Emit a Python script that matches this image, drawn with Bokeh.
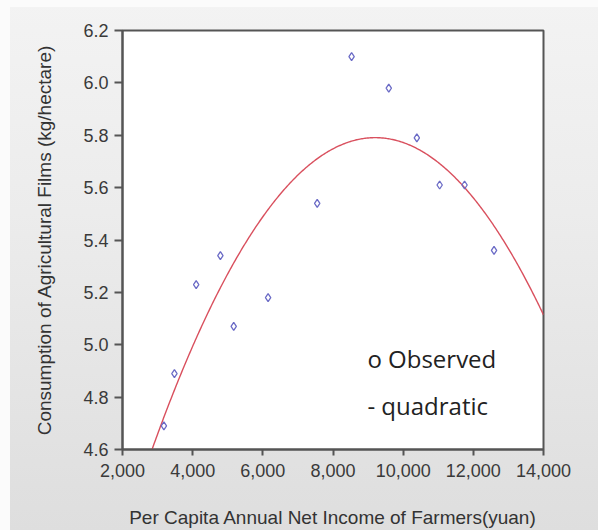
import numpy as np
from bokeh.plotting import figure
from bokeh.models import (ColumnDataSource, Range1d, SingleIntervalTicker,
                          NumeralTickFormatter, Label)
from bokeh.embed import file_html
from bokeh.resources import INLINE

income = [3180, 3480, 4100, 4790, 5170, 6150, 7550, 8530, 9590, 10390, 11040, 11750, 12590]
films = [4.69, 4.89, 5.23, 5.34, 5.07, 5.18, 5.54, 6.10, 5.98, 5.79, 5.61, 5.61, 5.36]

x_label = "Per Capita Annual Net Income of Farmers(yuan)"
y_label = "Consumption of Agricultural Films (kg/hectare)"
legend_texts = ["o Observed", "- quadratic"]

# quadratic fit of observed data
coef = np.polyfit(income, films, 2)
xs = np.linspace(2000, 14000, 400)
ys = np.polyval(coef, xs)

p = figure(width=598, height=530, output_backend="svg", toolbar_location=None,
           x_range=Range1d(2000, 14000), y_range=Range1d(4.6, 6.2),
           min_border_left=122, min_border_right=55, min_border_top=30,
           min_border_bottom=80)

p.background_fill_color = "white"
p.border_fill_color = None
p.styles = {"background": "linear-gradient(to right, #fbfbfb 0px, #fbfbfb 10px, transparent 10px), "
                          "linear-gradient(to bottom, #fbfbfb 0px, #fbfbfb 7px, transparent 7px), "
                          "linear-gradient(to bottom, #f3f3f3 0%, #ececec 40%, #dedede 100%)"}
p.outline_line_color = "#555555"
p.outline_line_width = 2
p.xgrid.visible = False
p.ygrid.visible = False

p.line(xs, ys, line_color="#d9505e", line_width=1.4)
src = ColumnDataSource(dict(x=income, y=films))
p.scatter("x", "y", source=src, marker="diamond", size=8, fill_color=None,
          line_color="#6b6bc6", line_width=1.3)

for ax in (p.xaxis[0], p.yaxis[0]):
    ax.major_label_text_font = "Liberation Sans"
    ax.major_label_text_font_size = "18px"
    ax.major_label_text_color = "#3a3a3a"
    ax.axis_label_text_font = "Liberation Sans"
    ax.axis_label_text_font_size = "19px"
    ax.axis_label_text_font_style = "normal"
    ax.axis_label_text_color = "#333333"
    ax.axis_line_color = "#555555"
    ax.axis_line_width = 2
    ax.major_tick_line_color = "#555555"
    ax.major_tick_line_width = 2
    ax.major_tick_in = 0
    ax.minor_tick_line_color = None

p.xaxis[0].ticker = SingleIntervalTicker(interval=2000)
p.xaxis[0].formatter = NumeralTickFormatter(format="0,0")
p.xaxis[0].major_tick_out = 6
p.xaxis[0].major_label_standoff = 8
p.xaxis[0].axis_label = x_label
p.xaxis[0].axis_label_standoff = 27

p.yaxis[0].ticker = SingleIntervalTicker(interval=0.2)
p.yaxis[0].formatter = NumeralTickFormatter(format="0.0")
p.yaxis[0].major_tick_out = 8
p.yaxis[0].major_label_standoff = 6
p.yaxis[0].axis_label = y_label
p.yaxis[0].axis_label_standoff = 25

for txt, yy in zip(legend_texts, [4.946, 4.767]):
    p.add_layout(Label(x=8980, y=yy, text=txt, text_font="Open Sans",
                       text_font_size="24px", text_color="#222222",
                       text_baseline="alphabetic"))

open("out.html", "w").write(file_html(p, INLINE))
